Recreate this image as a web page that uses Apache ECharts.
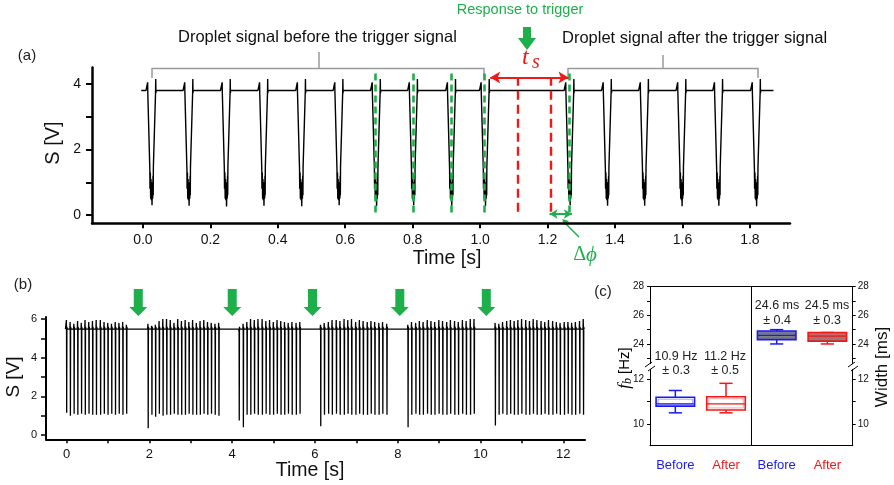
<!DOCTYPE html>
<html><head><meta charset="utf-8">
<script src="https://cdn.jsdelivr.net/npm/echarts@6/dist/echarts.min.js"></script>
<style>html,body{margin:0;padding:0;background:#fff}#c{width:894px;height:485px}</style>
</head><body><div id="c"></div>
<script>
// ---------------- DATA ----------------
// Panel (a): droplet signal, time [s] vs S [V]
const aStart = -0.005, aEnd = 1.87, aBase = 3.8;
const aPulseTimes = [0.027,0.137,0.248,0.359,0.471,0.582,0.693,0.803,0.916,1.016,1.267,1.378,1.488,1.599,1.708,1.820];
const aPulseMin   = [0.30,0.28,0.26,0.28,0.27,0.30,0.27,0.30,0.28,0.27,0.30,0.28,0.28,0.27,0.28,0.27];
// pulse shape (offset from pulse bottom [s], value [V]); null = pulse minimum
const aShapeDt = [-0.018,-0.0135,-0.013,-0.0125,-0.012,-0.0065,-0.006,-0.005,-0.004,-0.003,-0.002,-0.001,0,0.001,0.002,0.003,0.0035,0.004,0.0105,0.011,0.0115,0.012,0.018];
const aShapeV  = [3.80,3.80,4.05,3.72,3.78,1.40,0.80,1.30,0.50,1.10,0.45,1.00,null,0.90,0.50,1.20,0.60,1.45,3.75,4.15,3.72,3.80,3.80];
const aXTicks = [0,0.2,0.4,0.6,0.8,1.0,1.2,1.4,1.6,1.8];
const aYTicks = [0,1,2,3,4];
const aYLabels = [0,2,4];
const aGreenMarks = [0.690,0.801,0.914,1.013,1.265];
const aRedMarks = [1.112,1.210];
const aTsRange = [1.03,1.262];
const aDphiRange = [1.206,1.272];

// Panel (b): pulse trains between triggers
const bBase = 5.48;
const bTimes1 = [0.00,0.09,0.18,0.27,0.36,0.45,0.54,0.63,0.72,0.82,0.91,1.00,1.09,1.18,1.27,1.36,1.45];
const bTops1  = [5.95,5.85,5.75,5.90,5.80,5.95,5.85,5.90,5.95,5.95,5.85,5.80,5.75,5.85,5.80,5.85,5.70];
const bMins1  = [1.15,1.00,1.10,1.05,1.10,1.05,1.10,1.05,1.05,1.05,1.10,1.05,1.10,1.05,1.10,1.05,1.10];
const bTimes2 = [1.97,2.06,2.15,2.24,2.33,2.42,2.51,2.60,2.69,2.78,2.87,2.96,3.05,3.14,3.23,3.32,3.41,3.50,3.59,3.68];
const bTops2  = [5.75,5.65,5.70,5.90,6.00,6.00,5.95,5.80,6.00,5.90,5.95,5.85,5.95,5.80,5.90,5.95,5.85,5.80,5.75,5.80];
const bMins2  = [0.35,1.05,0.95,1.10,1.00,1.05,1.05,1.10,1.05,1.05,1.05,1.10,1.05,1.05,1.05,1.10,1.05,1.10,1.05,1.00];
const bTimes3 = [4.17,4.27,4.36,4.45,4.54,4.63,4.73,4.82,4.91,5.00,5.09,5.18,5.27,5.36,5.45,5.55,5.64];
const bTops3  = [5.55,5.75,5.85,6.00,5.95,6.00,6.00,5.90,5.95,5.85,5.95,5.90,5.85,5.80,5.85,5.80,5.85];
const bMins3  = [0.75,0.40,1.05,1.05,1.10,1.05,1.05,1.10,1.05,1.05,1.10,1.05,1.05,1.10,1.05,1.05,1.10];
const bTimes4 = [6.14,6.23,6.33,6.42,6.52,6.61,6.71,6.80,6.89,6.99,7.08,7.17,7.27,7.36,7.45,7.55,7.64,7.74];
const bTops4  = [5.70,5.80,5.85,5.95,5.95,5.90,6.00,5.95,6.00,5.85,5.95,5.90,5.85,5.90,5.85,5.80,5.85,5.75];
const bMins4  = [0.45,1.05,1.10,1.05,1.10,1.05,1.05,1.10,1.05,1.05,1.10,1.05,1.05,1.10,1.05,1.05,1.10,1.05];
const bTimes5 = [8.25,8.34,8.44,8.53,8.62,8.72,8.81,8.90,9.00,9.09,9.19,9.28,9.38,9.47,9.57,9.66,9.76,9.85];
const bTops5  = [5.70,5.85,5.80,5.90,5.85,5.95,5.90,5.85,5.95,5.90,5.85,5.95,5.90,5.85,5.95,5.90,6.00,6.00];
const bMins5  = [0.40,1.05,1.10,1.05,1.05,1.10,1.05,1.05,1.10,1.05,1.05,1.10,1.05,1.05,1.10,1.05,1.05,1.10];
const bTimes6 = [10.36,10.45,10.54,10.64,10.73,10.82,10.91,11.00,11.10,11.19,11.28,11.37,11.47,11.56,11.65,11.75,11.84,11.93,12.03,12.12,12.21,12.30,12.40,12.49];
const bTops6  = [5.80,5.75,5.85,5.90,5.95,5.90,5.95,6.00,5.95,5.90,6.00,5.95,5.90,5.85,5.95,5.90,5.85,5.80,5.85,5.85,5.80,5.85,5.90,6.00];
const bMins6  = [0.50,1.05,1.10,1.05,1.10,1.05,1.05,1.10,1.05,1.05,1.10,1.05,1.05,1.10,1.05,1.05,1.10,1.05,1.05,1.10,1.05,1.05,1.10,1.05];
const bTriggers = [1.73,4.00,5.94,8.05,10.14];
const bXTicks = [0,1,2,3,4,5,6,7,8,9,10,11,12];
const bXLabels = [0,2,4,6,8,10,12];
const bYTicks = [0,1,2,3,4,5,6];
const bYLabels = [0,2,4,6];

// Panel (c): box statistics [min, Q1, median, Q3, max]
const cCategories = ['Before','After','Before','After'];
const fbBefore = [10.5,10.8,10.9,11.2,11.5];
const fbAfter  = [10.5,10.63,10.9,11.22,11.82];
const wBefore  = [24.0,24.3,24.6,24.9,25.0];
const wAfter   = [24.0,24.2,24.55,24.8,24.8];
const fbText = ['10.9 Hz','11.2 Hz'];
const fbErr  = ['± 0.3','± 0.5'];
const wText  = ['24.6 ms','24.5 ms'];
const wErr   = ['± 0.4','± 0.3'];
const cUpperTicks = [23,24,25,26,27,28];
const cUpperLabels = [24,26,28];
const cLowerTicks = [10,11,12];
const cLowerLabels = [10,12];

// ---------------- BUILD ----------------
const FONT = "'Liberation Sans', Arial, sans-serif";
const SERIF = "'Liberation Serif', 'DejaVu Serif', serif";
const GREEN = '#1DAF4A', RED = '#F01818', BLUE = '#1A1AF0', GRAY = '#9a9a9a';

const aSignal = [[aStart, aBase]];
aPulseTimes.forEach((c, i) => {
  aShapeDt.forEach((dt, j) => {
    aSignal.push([+(c + dt).toFixed(4), aShapeV[j] === null ? aPulseMin[i] : aShapeV[j]]);
  });
});
aSignal.push([aEnd, aBase]);

const bT = [].concat(bTimes1,bTimes2,bTimes3,bTimes4,bTimes5,bTimes6);
const bTop = [].concat(bTops1,bTops2,bTops3,bTops4,bTops5,bTops6);
const bMin = [].concat(bMins1,bMins2,bMins3,bMins4,bMins5,bMins6);
const bSignal = [[-0.03, bBase]];
bT.forEach((c, i) => {
  bSignal.push([c - 0.014, bBase], [c - 0.007, bTop[i]], [c - 0.004, 5.35], [c, bMin[i]], [c + 0.005, 5.6], [c + 0.014, bBase]);
});
bSignal.push([12.52, bBase]);

const axisTxt = (size) => ({ color: '#111', fontSize: size, fontFamily: FONT });

const greenLines = aGreenMarks.map(t => [
  { coord: [t, 0.08], symbol: 'none', lineStyle: { color: GREEN, width: 2.6, type: [7, 4] } },
  { coord: [t, 4.33], symbol: 'none' }
]);
const redLines = aRedMarks.map(t => [
  { coord: [t, 0.1], symbol: 'none', lineStyle: { color: RED, width: 2.4, type: [9, 5] } },
  { coord: [t, 4.2], symbol: 'none' }
]);
const tsArrow = [[
  { coord: [aTsRange[0], 4.2], symbol: 'arrow', symbolSize: [9, 10], lineStyle: { color: RED, width: 2.2, type: 'solid' } },
  { coord: [aTsRange[1], 4.2], symbol: 'arrow', symbolSize: [9, 10] }
]];
const dphiArrow = [[
  { coord: [aDphiRange[0], 0.03], symbol: 'arrow', symbolSize: [7, 8], lineStyle: { color: GREEN, width: 2, type: 'solid' } },
  { coord: [aDphiRange[1], 0.03], symbol: 'arrow', symbolSize: [7, 8] }
]];

function renderTrigger(params, api) {
  const p = api.coord([api.value(0), api.value(1)]);
  const x = p[0], tip = p[1] - 1;
  return {
    type: 'polygon',
    shape: { points: [[x-4.5, tip-27],[x+4.5, tip-27],[x+4.5, tip-9],[x+9, tip-9],[x, tip],[x-9, tip-9],[x-4.5, tip-9]] },
    style: { fill: GREEN }
  };
}

const boxColors = [BLUE, RED];
const boxLight = ['rgba(90,90,255,0.55)', 'rgba(255,90,90,0.55)'];
function renderBox(params, api) {
  const x = api.value(0);
  const ci = api.value(6), filled = api.value(7);
  const unit = api.size([1, 0])[0];
  const half = unit * 0.38, cap = unit * 0.13;
  const y = (k) => api.coord([x, api.value(k)])[1];
  const cx = api.coord([x, api.value(3)])[0];
  const yMin = y(1), yQ1 = y(2), yMed = y(3), yQ3 = y(4), yMax = y(5);
  const col = boxColors[ci];
  return {
    type: 'group',
    children: [
      { type: 'line', shape: { x1: cx, y1: yQ3, x2: cx, y2: yMax }, style: { stroke: col, lineWidth: 1.5 } },
      { type: 'line', shape: { x1: cx, y1: yQ1, x2: cx, y2: yMin }, style: { stroke: col, lineWidth: 1.5 } },
      { type: 'line', shape: { x1: cx - cap, y1: yMax, x2: cx + cap, y2: yMax }, style: { stroke: col, lineWidth: 1.5 } },
      { type: 'line', shape: { x1: cx - cap, y1: yMin, x2: cx + cap, y2: yMin }, style: { stroke: col, lineWidth: 1.5 } },
      { type: 'rect', shape: { x: cx - half, y: yQ3, width: 2 * half, height: yQ1 - yQ3 }, style: { fill: filled ? '#808080' : '#fff', stroke: col, lineWidth: 1.6 } },
      { type: 'rect', shape: { x: cx - half + 2, y: yQ3 + 2, width: 2 * half - 4, height: Math.max(0, yQ1 - yQ3 - 4) }, style: { fill: 'none', stroke: boxLight[ci], lineWidth: 1 } },
      { type: 'line', shape: { x1: cx - half, y1: yMed, x2: cx + half, y2: yMed }, style: { stroke: col, lineWidth: 1.2 } }
    ]
  };
}
const lowerBoxes = [[0.5].concat(fbBefore, [0, 0]), [1.5].concat(fbAfter, [1, 0])];
const upperBoxes = [[2.5].concat(wBefore, [0, 1]), [3.5].concat(wAfter, [1, 1])];

const cYAxis = (grid, pos, min, max, ticks, labels) => ({
  gridIndex: grid, type: 'value', position: pos, min: min, max: max,
  axisLine: { show: true, onZero: false, lineStyle: { color: '#000', width: 1 } },
  axisTick: { show: true, customValues: ticks, length: 3, lineStyle: { color: '#000', width: 1 } },
  axisLabel: Object.assign({ customValues: labels, margin: pos === 'left' ? 6 : 5 }, axisTxt(10)),
  splitLine: { show: false }
});

const option = {
  animation: false,
  backgroundColor: '#fff',
  grid: [
    { left: 92, top: 67.6, width: 698, height: 155.6, outerBoundsMode: 'none' },
    { left: 46, top: 317.1, width: 539, height: 122.2, outerBoundsMode: 'none' },
    { left: 650, top: 286.7, width: 202.7, height: 80.3, outerBoundsMode: 'none' },
    { left: 650, top: 367, width: 202.7, height: 78.7, outerBoundsMode: 'none' }
  ],
  xAxis: [
    { gridIndex: 0, type: 'value', min: -0.151, max: 1.919,
      axisLine: { onZero: false, lineStyle: { color: '#000', width: 2.5 } },
      axisTick: { customValues: aXTicks, length: 5, lineStyle: { color: '#000', width: 2 } },
      axisLabel: Object.assign({ customValues: aXTicks, margin: 10, formatter: v => v.toFixed(1) }, axisTxt(14)),
      splitLine: { show: false } },
    { gridIndex: 1, type: 'value', min: -0.5, max: 12.525,
      axisLine: { onZero: false, lineStyle: { color: '#000', width: 2 } },
      axisTick: { customValues: bXTicks, length: 4, lineStyle: { color: '#000', width: 1.5 } },
      axisLabel: Object.assign({ customValues: bXLabels, margin: 9 }, axisTxt(13)),
      splitLine: { show: false } },
    { gridIndex: 2, type: 'value', min: 0, max: 4, position: 'top',
      axisLine: { onZero: false, lineStyle: { color: '#000', width: 1 } },
      axisTick: { show: false }, axisLabel: { show: false }, splitLine: { show: false } },
    { gridIndex: 3, type: 'value', min: 0, max: 4, position: 'bottom',
      axisLine: { onZero: false, lineStyle: { color: '#000', width: 1 } },
      axisTick: { show: false },
      axisLabel: { customValues: [0.5, 1.5, 2.5, 3.5], margin: 13,
        formatter: v => { const i = Math.round(v - 0.5); return (i % 2 === 0 ? '{b|' : '{r|') + cCategories[i] + '}'; },
        rich: { b: { color: BLUE, fontSize: 13, fontFamily: FONT }, r: { color: RED, fontSize: 13, fontFamily: FONT } } },
      splitLine: { show: false } }
  ],
  yAxis: [
    { gridIndex: 0, type: 'value', min: -0.25, max: 4.5,
      axisLine: { show: true, onZero: false, lineStyle: { color: '#000', width: 2.5 } },
      axisTick: { show: true, customValues: aYTicks, length: 6, lineStyle: { color: '#000', width: 2 } },
      axisLabel: Object.assign({ customValues: aYLabels, margin: 11 }, axisTxt(14)),
      splitLine: { show: false } },
    { gridIndex: 1, type: 'value', min: -0.22, max: 6.1,
      axisLine: { show: true, onZero: false, lineStyle: { color: '#000', width: 2 } },
      axisTick: { show: true, customValues: bYTicks, length: 5, lineStyle: { color: '#000', width: 1.5 } },
      axisLabel: Object.assign({ customValues: bYLabels, margin: 9 }, axisTxt(11)),
      splitLine: { show: false } },
    cYAxis(2, 'left', 22.39, 28, cUpperTicks, cUpperLabels),
    cYAxis(2, 'right', 22.39, 28, cUpperTicks, cUpperLabels),
    cYAxis(3, 'left', 9.03, 12.55, cLowerTicks, cLowerLabels),
    cYAxis(3, 'right', 9.03, 12.55, cLowerTicks, cLowerLabels)
  ],
  series: [
    { type: 'line', xAxisIndex: 0, yAxisIndex: 0, data: aSignal, showSymbol: false, symbol: 'none',
      lineStyle: { color: '#000', width: 1.4 }, z: 3,
      markLine: { silent: true, animation: false, label: { show: false }, symbol: 'none',
        data: [].concat(greenLines, redLines, tsArrow, dphiArrow) } },
    { type: 'line', xAxisIndex: 1, yAxisIndex: 1, data: bSignal, showSymbol: false, symbol: 'none',
      lineStyle: { color: '#000', width: 1.3 } },
    { type: 'custom', xAxisIndex: 1, yAxisIndex: 1, renderItem: renderTrigger, clip: false,
      data: bTriggers.map(t => [t, 6.1]), encode: { x: 0, y: 1 } },
    { type: 'custom', xAxisIndex: 2, yAxisIndex: 2, renderItem: renderBox, clip: false,
      data: upperBoxes, encode: { x: 0, y: [1, 2, 3, 4, 5] },
      markLine: { silent: true, symbol: 'none', label: { show: false }, lineStyle: { color: '#000', width: 1, type: 'solid' }, data: [{ xAxis: 2 }] } },
    { type: 'custom', xAxisIndex: 3, yAxisIndex: 4, renderItem: renderBox, clip: false,
      data: lowerBoxes, encode: { x: 0, y: [1, 2, 3, 4, 5] },
      markLine: { silent: true, symbol: 'none', label: { show: false }, lineStyle: { color: '#000', width: 1, type: 'solid' }, data: [{ xAxis: 2 }] } }
  ],
  graphic: [
    // panel (a) texts & brackets
    { type: 'text', x: 27, y: 56, style: { text: '(a)', font: '15px ' + FONT, fill: '#222', align: 'center', verticalAlign: 'middle' } },
    { type: 'text', x: 178, y: 37, style: { text: 'Droplet signal before the trigger signal', font: '16.5px ' + FONT, fill: '#111', verticalAlign: 'middle' } },
    { type: 'polyline', shape: { points: [[152, 78], [152, 68.5], [484, 68.5], [484, 78]] }, style: { stroke: GRAY, lineWidth: 1.5, fill: 'none' } },
    { type: 'line', shape: { x1: 319, y1: 68.5, x2: 319, y2: 52 }, style: { stroke: GRAY, lineWidth: 1.5 } },
    { type: 'text', x: 562, y: 38, style: { text: 'Droplet signal after the trigger signal', font: '16.5px ' + FONT, fill: '#111', verticalAlign: 'middle' } },
    { type: 'polyline', shape: { points: [[568, 78], [568, 68.5], [758, 68.5], [758, 78]] }, style: { stroke: GRAY, lineWidth: 1.5, fill: 'none' } },
    { type: 'line', shape: { x1: 663, y1: 68.5, x2: 663, y2: 55 }, style: { stroke: GRAY, lineWidth: 1.5 } },
    { type: 'text', x: 520, y: 10, style: { text: 'Response to trigger', font: '14.5px ' + FONT, fill: GREEN, align: 'center', verticalAlign: 'middle' } },
    { type: 'polygon', shape: { points: [[523, 27], [531, 27], [531, 38], [536, 38], [527, 50], [518, 38], [523, 38]] }, style: { fill: GREEN } },
    { type: 'text', x: 522, y: 58, style: { text: 't', font: 'italic 24px ' + SERIF, fill: RED, verticalAlign: 'middle' } },
    { type: 'text', x: 532, y: 63, style: { text: 's', font: 'italic 20px ' + SERIF, fill: RED, verticalAlign: 'middle' } },
    { type: 'line', shape: { x1: 563, y1: 221, x2: 579, y2: 237 }, style: { stroke: GREEN, lineWidth: 1.5 } },
    { type: 'polygon', shape: { points: [[562, 219], [569, 221], [565, 225]] }, style: { fill: GREEN } },
    { type: 'text', x: 585, y: 255, style: { text: '{d|Δ}{p|ϕ}', align: 'center', verticalAlign: 'middle',
        rich: { d: { fontSize: 20, fontFamily: SERIF, fill: GREEN, color: GREEN }, p: { fontSize: 21, fontStyle: 'italic', fontFamily: SERIF, fill: GREEN, color: GREEN } } } },
    { type: 'text', x: 447, y: 259, style: { text: 'Time [s]', font: '19.5px ' + FONT, fill: '#111', align: 'center', verticalAlign: 'middle' } },
    { type: 'text', x: 53, y: 143, rotation: Math.PI / 2, style: { text: 'S [V]', font: '20px ' + FONT, fill: '#111', align: 'center', verticalAlign: 'middle' } },
    // panel (b)
    { type: 'text', x: 23, y: 285, style: { text: '(b)', font: '15px ' + FONT, fill: '#222', align: 'center', verticalAlign: 'middle' } },
    { type: 'text', x: 14, y: 377, rotation: Math.PI / 2, style: { text: 'S [V]', font: '19px ' + FONT, fill: '#111', align: 'center', verticalAlign: 'middle' } },
    { type: 'text', x: 310, y: 471, style: { text: 'Time [s]', font: '19.5px ' + FONT, fill: '#111', align: 'center', verticalAlign: 'middle' } },
    // panel (c)
    { type: 'text', x: 603, y: 292, style: { text: '(c)', font: '15px ' + FONT, fill: '#222', align: 'center', verticalAlign: 'middle' } },
    { type: 'text', x: 676, y: 357, style: { text: fbText[0], font: '12.5px ' + FONT, fill: '#222', align: 'center', verticalAlign: 'middle' } },
    { type: 'text', x: 676, y: 371, style: { text: fbErr[0], font: '12.5px ' + FONT, fill: '#222', align: 'center', verticalAlign: 'middle' } },
    { type: 'text', x: 725, y: 357, style: { text: fbText[1], font: '12.5px ' + FONT, fill: '#222', align: 'center', verticalAlign: 'middle' } },
    { type: 'text', x: 725, y: 371, style: { text: fbErr[1], font: '12.5px ' + FONT, fill: '#222', align: 'center', verticalAlign: 'middle' } },
    { type: 'text', x: 777, y: 306, style: { text: wText[0], font: '12.5px ' + FONT, fill: '#222', align: 'center', verticalAlign: 'middle' } },
    { type: 'text', x: 777, y: 321, style: { text: wErr[0], font: '12.5px ' + FONT, fill: '#222', align: 'center', verticalAlign: 'middle' } },
    { type: 'text', x: 827, y: 306, style: { text: wText[1], font: '12.5px ' + FONT, fill: '#222', align: 'center', verticalAlign: 'middle' } },
    { type: 'text', x: 827, y: 321, style: { text: wErr[1], font: '12.5px ' + FONT, fill: '#222', align: 'center', verticalAlign: 'middle' } },
    { type: 'text', x: 625, y: 368, rotation: Math.PI / 2, style: { text: '{f|f}{b|b}{n| [Hz]}', align: 'center', verticalAlign: 'middle',
        rich: { f: { fontSize: 17, fontStyle: 'italic', fontFamily: SERIF, color: '#111' }, b: { fontSize: 12, fontStyle: 'italic', fontFamily: SERIF, color: '#111', verticalAlign: 'bottom', padding: [6, 0, 0, 0] }, n: { fontSize: 15, fontFamily: FONT, color: '#111' } } } },
    { type: 'text', x: 882, y: 367, rotation: Math.PI / 2, style: { text: 'Width [ms]', font: '17px ' + FONT, fill: '#111', align: 'center', verticalAlign: 'middle' } },
    // axis break marks
    { type: 'rect', shape: { x: 647, y: 364, width: 6, height: 5 }, style: { fill: '#fff' }, z: 100 },
    { type: 'line', shape: { x1: 645, y1: 367, x2: 652, y2: 362 }, style: { stroke: '#000', lineWidth: 1 }, z: 101 },
    { type: 'line', shape: { x1: 648, y1: 371, x2: 655, y2: 366 }, style: { stroke: '#000', lineWidth: 1 }, z: 101 },
    { type: 'rect', shape: { x: 849.7, y: 364, width: 6, height: 5 }, style: { fill: '#fff' }, z: 100 },
    { type: 'line', shape: { x1: 848, y1: 367, x2: 855, y2: 362 }, style: { stroke: '#000', lineWidth: 1 }, z: 101 },
    { type: 'line', shape: { x1: 851, y1: 371, x2: 858, y2: 366 }, style: { stroke: '#000', lineWidth: 1 }, z: 101 }
  ]
};
const chart = echarts.init(document.getElementById('c'), null, { renderer: 'canvas' });
chart.setOption(option);
</script></body></html>
